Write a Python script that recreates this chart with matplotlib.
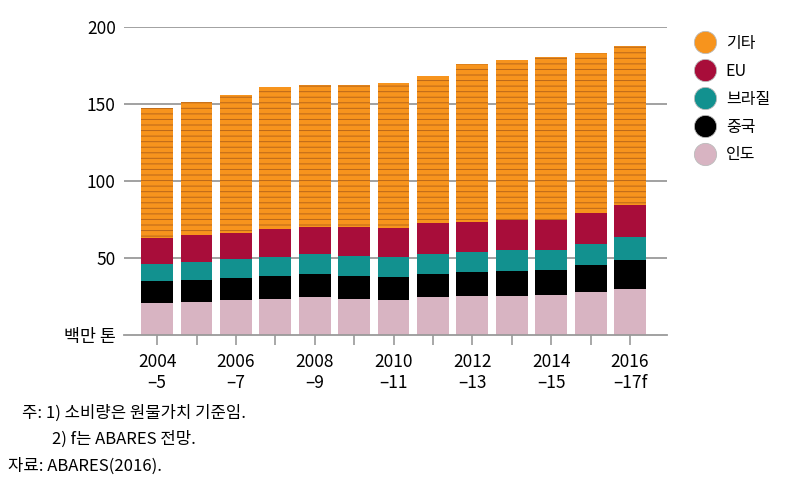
import numpy as np
import matplotlib
matplotlib.use('Agg')
import matplotlib.pyplot as plt
from matplotlib.lines import Line2D

plt.rcParams['font.family'] = ['Noto Sans CJK KR', 'DejaVu Sans']
plt.rcParams['hatch.linewidth'] = 0.7

years = ['2004\n\u20135', '2005', '2006\n\u20137', '2007', '2008\n\u20139', '2009',
         '2010\n\u201311', '2011', '2012\n\u201313', '2013', '2014\n\u201315', '2015',
         '2016\n\u201317f']
# cumulative tops (million tonnes)
india_top = [21.0, 21.6, 22.5, 23.4, 24.7, 23.4, 22.7, 24.7, 25.3, 25.3, 25.8, 27.7, 29.7]
china_top = [34.9, 35.7, 37.0, 38.3, 39.4, 38.3, 37.7, 39.4, 40.9, 41.8, 42.2, 45.5, 48.9]
brazil_top = [46.1, 47.4, 49.1, 50.4, 52.4, 51.3, 50.4, 52.4, 53.7, 55.2, 55.2, 59.3, 63.6]
eu_top = [63.2, 64.9, 66.4, 68.8, 69.9, 69.9, 69.5, 72.5, 73.4, 74.7, 74.7, 79.4, 84.4]
total = [147.2, 151.3, 155.6, 161.3, 162.3, 162.3, 163.9, 168.4, 175.8, 178.8, 180.5, 183.3, 187.7]

series_names = ['인도', '중국', '브라질', 'EU', '기타']
colors = ['#d8b4c2', '#000000', '#12918f', '#a80d3a', '#f7941d']

tops = np.array([india_top, china_top, brazil_top, eu_top, total])
bottoms = np.vstack([np.zeros(len(years)), tops[:-1]])
heights = tops - bottoms

fig = plt.figure(figsize=(8.07, 4.91), dpi=100)
ax = fig.add_axes([0.1537, 0.3177, 0.6728, 0.6273])

x = np.arange(len(years))
for yv in [50, 100, 150, 200]:
    ax.axhline(yv, color='#9a9a9a', lw=1.3, zorder=0)

for i in range(5):
    if i == 4:
        ax.bar(x, heights[i], 0.81, bottom=bottoms[i], color=colors[i],
               edgecolor='#b8661a', hatch='---', linewidth=0, zorder=2)
    else:
        ax.bar(x, heights[i], 0.81, bottom=bottoms[i], color=colors[i],
               linewidth=0, zorder=2)

ax.set_xlim(-0.84, 12.94)
ax.set_ylim(0, 200)
for s in ['top', 'right', 'left']:
    ax.spines[s].set_visible(False)
ax.spines['bottom'].set_color('#9a9a9a')
ax.spines['bottom'].set_linewidth(1.3)

ax.set_xticks(x)
ax.set_xticklabels([lab if i % 2 == 0 else '' for i, lab in enumerate(years)],
                   fontsize=12.5, linespacing=1.2)
ax.tick_params(axis='x', length=7, color='#9a9a9a', width=1.2, pad=6)
ax.set_yticks([0, 50, 100, 150, 200])
ax.set_yticklabels(['백만 톤', '50', '100', '150', '200'], fontsize=12.5)
ax.tick_params(axis='y', length=0, pad=6)

handles = [Line2D([0], [0], marker='o', linestyle='', markersize=16,
                  markerfacecolor=colors[i], markeredgecolor='#bbbbbb',
                  markeredgewidth=0.6) for i in [4, 3, 2, 1, 0]]
labels = [series_names[i] for i in [4, 3, 2, 1, 0]]
fig.legend(handles, labels, loc='upper left', bbox_to_anchor=(0.836, 0.958),
           frameon=False, fontsize=11.5, handletextpad=0.3, labelspacing=0.68)

fig.text(0.027, 0.150, '주: 1) 소비량은 원물가치 기준임.', fontsize=12)
fig.text(0.064, 0.096, '2) f는 ABARES 전망.', fontsize=12)
fig.text(0.010, 0.042, '자료: ABARES(2016).', fontsize=12)

fig.savefig('out.png', dpi=100)
